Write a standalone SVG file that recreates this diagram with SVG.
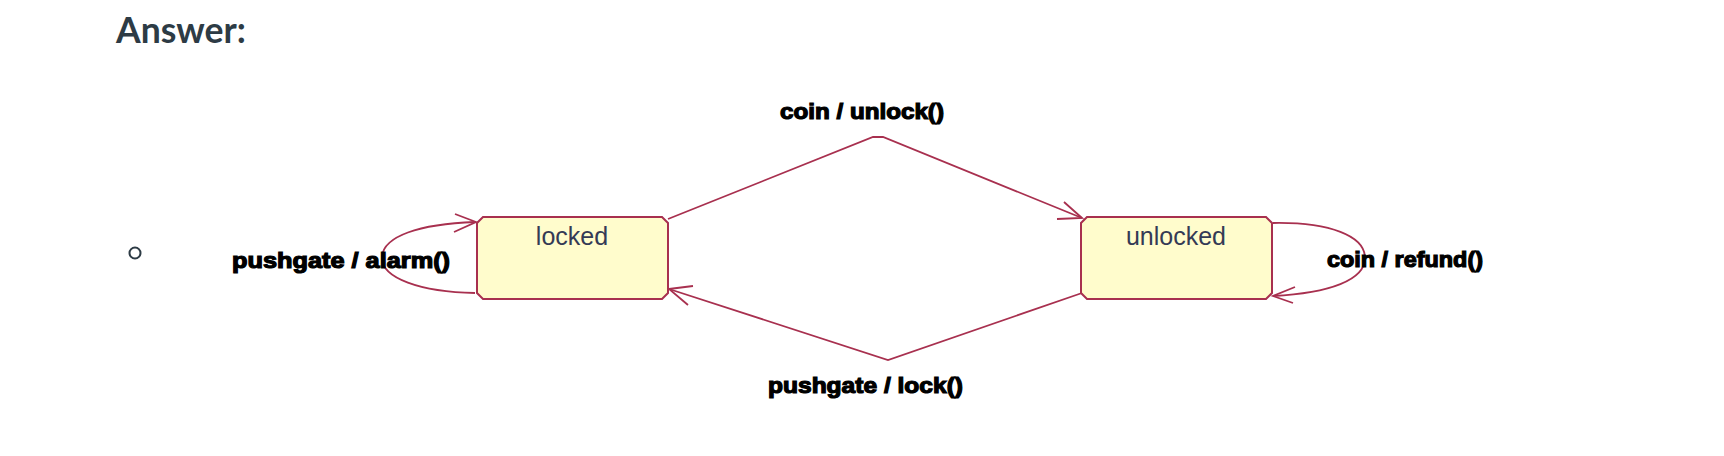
<svg xmlns="http://www.w3.org/2000/svg" width="1724" height="456" viewBox="0 0 1724 456">
<style>
.state{fill:#fffccc;stroke:#a8304f;stroke-width:2}
.sname{font-family:"Liberation Sans",Arial,sans-serif;font-size:25px;fill:#343a55;text-anchor:middle}
.edge{fill:none;stroke:#a8304f;stroke-width:1.8}
.lbl{font-family:"Liberation Sans",Arial,sans-serif;font-size:22px;font-weight:bold;fill:#000;stroke:#000;stroke-width:1.2}
.head{font-family:Lato,"Liberation Sans",sans-serif;font-size:36px;font-weight:bold;fill:#2d3b45}
</style>
<rect width="1724" height="456" fill="#fff"/>
<text class="head" x="116" y="43" textLength="130" lengthAdjust="spacingAndGlyphs">Answer:</text>
<circle cx="135" cy="253" r="5.5" fill="none" stroke="#2d3b45" stroke-width="2"/>
<g id="locked">
<path class="state" d="M483,217 H662 L668,223 V293 L662,299 H483 L477,293 V223 Z"/>
<text class="sname" x="572" y="245">locked</text>
</g>
<g id="unlocked">
<path class="state" d="M1087,217 H1266 L1272,223 V293 L1266,299 H1087 L1081,293 V223 Z"/>
<text class="sname" x="1176" y="245">unlocked</text>
</g>
<g id="connectors">
<path class="edge" d="M475,293 C420,292 382,278 382,258 C382,236 420,224 475,222"/>
<path class="edge" d="M455,214 L476,222 L454,232"/>
<path class="edge" d="M668,219 L873,137 H883 L1082,218"/>
<path class="edge" d="M1064,202 L1082,218 L1057,219"/>
<path class="edge" d="M1082,293 L888,360 L669,289"/>
<path class="edge" d="M693,286 L669,289 L688,305"/>
<path class="edge" d="M1273,223 C1330,222 1365,236 1365,258 C1365,280 1330,293 1273,296"/>
<path class="edge" d="M1295,287 L1273,296 L1293,303"/>
</g>
<g id="labels">
<text class="lbl" x="232" y="268" textLength="218" lengthAdjust="spacingAndGlyphs">pushgate / alarm()</text>
<text class="lbl" x="780" y="119" textLength="164" lengthAdjust="spacingAndGlyphs">coin / unlock()</text>
<text class="lbl" x="1327" y="267" textLength="156" lengthAdjust="spacingAndGlyphs">coin / refund()</text>
<text class="lbl" x="768" y="393" textLength="195" lengthAdjust="spacingAndGlyphs">pushgate / lock()</text>
</g>
</svg>
